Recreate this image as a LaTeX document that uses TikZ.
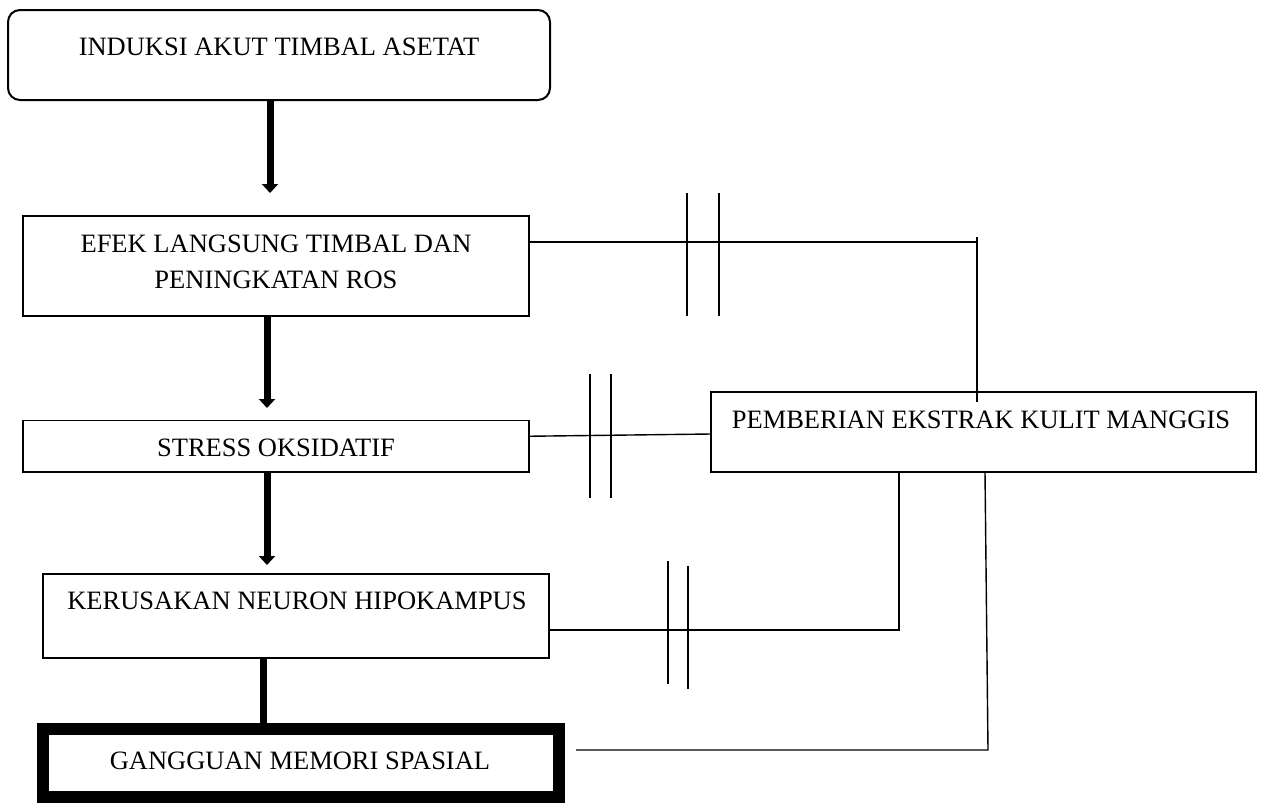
\documentclass[tikz,border=0pt]{standalone}
\usepackage{fontspec}
\setmainfont{Liberation Serif}
\usetikzlibrary{arrows.meta}
\begin{document}
\begin{tikzpicture}[x=1pt,y=-1pt,
  box/.style={draw,line width=1.2pt,inner sep=0pt,outer sep=0pt},
  lbl/.style={anchor=base,inner sep=0pt,font=\fontsize{26.5}{32}\selectfont},
  flow/.style={line width=7pt,-{Triangle[width=16pt,length=9pt]}},
  link/.style={line width=1.4pt},
  tick/.style={line width=1.4pt}]
\useasboundingbox (0,0) rectangle (1264,803);
% boxes
\node[box,line width=2pt,rounded corners=12pt,minimum width=542pt,minimum height=90pt] (top) at (279,55) {};
\node[box,minimum width=506pt,minimum height=100pt] (efek) at (276,266) {};
\node[box,minimum width=506pt,minimum height=51.5pt] (stress) at (276,446.25) {};
\node[box,minimum width=506pt,minimum height=84pt] (kerus) at (296,616) {};
\node[box,minimum width=545pt,minimum height=80pt] (pember) at (983.5,432) {};
\node[draw,line width=12pt,inner sep=0pt,outer sep=0pt,minimum width=515.5pt,minimum height=68pt] (gang) at (300.75,763) {};
% texts
\node[lbl] (ttop) at (279,55) {INDUKSI AKUT TIMBAL ASETAT};
\node[lbl] (tefek1) at (276,252) {EFEK LANGSUNG TIMBAL DAN};
\node[lbl] (tefek2) at (276,288) {PENINGKATAN ROS};
\node[lbl] (tstress) at (276,456) {STRESS OKSIDATIF};
\node[lbl] (tkerus) at (297,609) {KERUSAKAN NEURON HIPOKAMPUS};
\node[lbl] (tpember) at (981,428) {PEMBERIAN EKSTRAK KULIT MANGGIS};
\node[lbl] (tgang) at (300,769) {GANGGUAN MEMORI SPASIAL};
% coordinates
\coordinate (a1) at (270,193);
\coordinate (a2) at (267,408);
\coordinate (a3) at (267,565);
\coordinate (g1) at (263,729);
\coordinate (j1) at (977,242);
\coordinate (j1t) at (977,237);
\coordinate (j1b) at (977,402);
\coordinate (j3) at (899,630);
\coordinate (j4s) at (576,750);
\coordinate (j4) at (988,750);
% flow arrows
\draw[flow] ([xshift=-9pt]top.south) -- (a1);
\draw[flow] ([xshift=-9pt]efek.south) -- (a2);
\draw[flow] ([xshift=-9pt]stress.south) -- (a3);
\draw[line width=7pt] ([xshift=-33pt]kerus.south) -- (g1);
% links to pemberian
\draw[link] ([yshift=24pt]efek.east) -- (j1);
\draw[link] (j1t) -- (j1b);
\draw[link] ([yshift=10pt]stress.east) -- ([yshift=-2pt]pember.west);
\draw[link] ([yshift=-14pt]kerus.east) -- (j3) -- ([xshift=-84.5pt]pember.south);
\draw[link] (j4s) -- (j4) -- ([xshift=1.5pt]pember.south);
% blocking ticks
\draw[tick] (687,193) -- (687,316);
\draw[tick] (719,193) -- (719,316);
\draw[tick] (590,374) -- (590,498);
\draw[tick] (611,374) -- (611,498);
\draw[tick] (668,561) -- (668,684);
\draw[tick] (688,566) -- (688,689);
\end{tikzpicture}
\end{document}
